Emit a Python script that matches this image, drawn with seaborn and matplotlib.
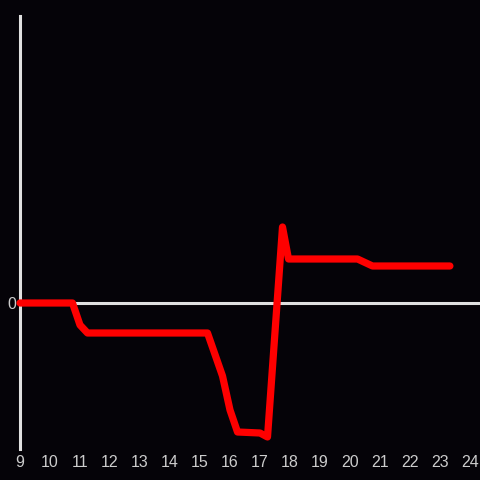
import pandas as pd
import matplotlib.pyplot as plt
import seaborn as sns

# valores
horas = [9.0, 10.75, 11.0, 11.25, 15.25, 15.75, 16.0, 16.25, 17.0, 17.25,
         17.75, 17.95, 20.25, 20.75, 23.33]
valores = [0.0, 0.0, -2.2, -3.0, -3.0, -7.3, -10.7, -12.9, -13.0, -13.4,
           7.6, 4.4, 4.4, 3.7, 3.7]
ticks_x = list(range(9, 25))

df = pd.DataFrame({'hora': horas, 'valor': valores})

sns.set_theme(style='dark')
plt.rcParams['font.family'] = ['Liberation Sans', 'DejaVu Sans']

fundo = '#050308'
cinza = '#e0e0e0'

fig = plt.figure(figsize=(4.8, 4.8), dpi=100, facecolor=fundo)
ax = fig.add_axes([20 / 480, 31 / 480, 460 / 480, 433 / 480])
ax.set_facecolor(fundo)

ax.axhline(0, color=cinza, lw=2.2, zorder=1)
sns.lineplot(data=df, x='hora', y='valor', ax=ax, color='#ff0000',
             lw=5.2, zorder=3, clip_on=False)

ax.set_xlim(9, 24.333)
ax.set_ylim(-14.6, 28.7)
ax.set_xticks(ticks_x)
ax.set_yticks([0])
ax.set_xlabel('')
ax.set_ylabel('')
ax.grid(False)

for lado in ['top', 'right', 'bottom']:
    ax.spines[lado].set_visible(False)
ax.spines['left'].set_color(cinza)
ax.spines['left'].set_linewidth(2.2)
ax.spines['left'].set_zorder(2)

ax.tick_params(axis='both', length=0, colors='#cccccc', labelsize=11.5)
ax.tick_params(axis='x', pad=4)
ax.tick_params(axis='y', pad=3)

fig.savefig('out.png', dpi=100, facecolor=fundo)
